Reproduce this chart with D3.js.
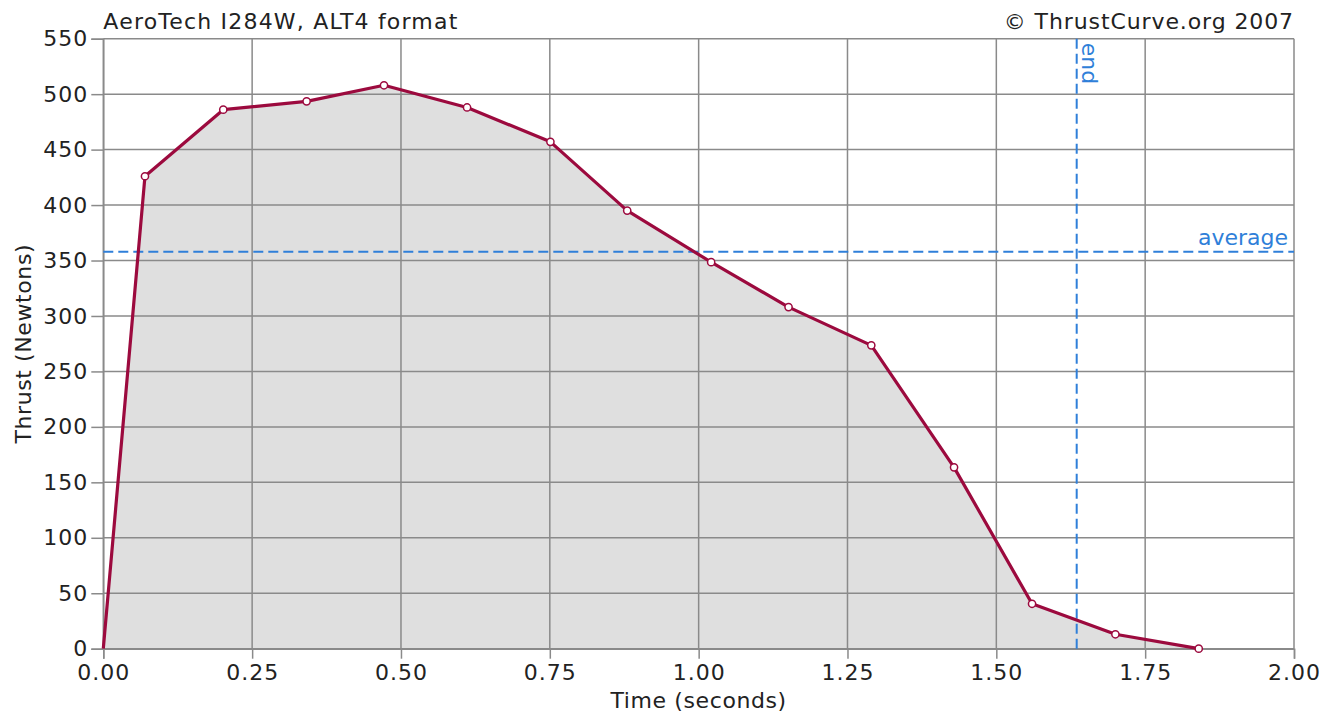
<!DOCTYPE html>
<html>
<head>
<meta charset="utf-8">
<script src="https://cdn.jsdelivr.net/npm/d3@7"></script>
<style>
  html, body { margin: 0; padding: 0; background: #fff; }
  svg { display: block; font-family: "DejaVu Sans", sans-serif; }
</style>
</head>
<body>
<svg id="chart" width="1335" height="719"></svg>
<script>
// ---- data ----
const times  = [0, 0.070, 0.2015, 0.3415, 0.4715, 0.611, 0.751, 0.880, 1.021, 1.151, 1.290, 1.429, 1.560, 1.700, 1.840];
const thrust = [0, 426, 486, 493.5, 508, 488, 457, 395, 348.5, 308, 273.5, 163.5, 40.5, 13, 0];
const averageThrust = 358;
const burnEnd = 1.635;
const xTickValues = [0, 0.25, 0.5, 0.75, 1.0, 1.25, 1.5, 1.75, 2.0];
const yTickValues = [0, 50, 100, 150, 200, 250, 300, 350, 400, 450, 500, 550];
const titleLeft = "AeroTech I284W, ALT4 format";
const titleRight = "© ThrustCurve.org 2007";
const xAxisTitle = "Time (seconds)";
const yAxisTitle = "Thrust (Newtons)";

// ---- layout ----
const L = 103.3, R = 1294, T = 38.7, B = 648.7;
const svg = d3.select("#chart");
const x = d3.scaleLinear().domain([0, 2]).range([L, R]);
const y = d3.scaleLinear().domain([0, 550]).range([B, T]);
const gridColor = "#8a8a8a";
const blue = "#2f7fd9";
const crimson = "#9c0a3e";
const textColor = "#222";

const pts = times.map((t, i) => ({t, v: thrust[i]}));

// area fill
svg.append("path")
  .datum(pts)
  .attr("fill", "#dfdfdf")
  .attr("d", d3.area().x(d => x(d.t)).y0(y(0)).y1(d => y(d.v)));

// grid
const grid = svg.append("g").attr("stroke", gridColor).attr("stroke-width", 1.5);
grid.selectAll("line.v").data(xTickValues).join("line")
  .attr("x1", d => x(d)).attr("x2", d => x(d)).attr("y1", T).attr("y2", B);
grid.selectAll("line.h").data(yTickValues).join("line")
  .attr("x1", L).attr("x2", R).attr("y1", d => y(d)).attr("y2", d => y(d));

// axes
const yAxis = svg.append("g").attr("transform", `translate(${L},0)`)
  .call(d3.axisLeft(y).tickValues(yTickValues).tickSize(12).tickPadding(3).tickFormat(d3.format("d")));
const xAxis = svg.append("g").attr("transform", `translate(0,${B})`)
  .call(d3.axisBottom(x).tickValues(xTickValues).tickSize(10).tickPadding(6).tickFormat(d3.format(".2f")));
[yAxis, xAxis].forEach(g => {
  g.select(".domain").attr("stroke", gridColor).attr("stroke-width", 1.5);
  g.selectAll(".tick line").attr("stroke", gridColor).attr("stroke-width", 1.5);
  g.selectAll(".tick text").attr("fill", textColor).style("font-size", "22px")
    .style("font-family", "DejaVu Sans").style("letter-spacing", "1px");
});
xAxis.selectAll(".tick text").attr("dy", "0.71em");

// average & end lines
svg.append("line")
  .attr("x1", L).attr("x2", R).attr("y1", y(averageThrust)).attr("y2", y(averageThrust))
  .attr("stroke", blue).attr("stroke-width", 2).attr("stroke-dasharray", "10,5");
svg.append("line")
  .attr("x1", x(burnEnd)).attr("x2", x(burnEnd)).attr("y1", T).attr("y2", B)
  .attr("stroke", blue).attr("stroke-width", 2).attr("stroke-dasharray", "10,5");
svg.append("text")
  .attr("x", R - 6).attr("y", y(averageThrust) - 7)
  .attr("text-anchor", "end").attr("fill", blue).style("font-size", "22px")
  .text("average");
svg.append("text")
  .attr("transform", `translate(${x(burnEnd) + 5},${T + 4}) rotate(90)`)
  .attr("fill", blue).style("font-size", "22px")
  .text("end");

// thrust curve
svg.append("path")
  .datum(pts)
  .attr("fill", "none").attr("stroke", crimson).attr("stroke-width", 3.2).attr("stroke-linejoin", "round")
  .attr("d", d3.line().x(d => x(d.t)).y(d => y(d.v)));
svg.append("g").selectAll("circle").data(pts.slice(1)).join("circle")
  .attr("cx", d => x(d.t)).attr("cy", d => y(d.v)).attr("r", 3.6)
  .attr("fill", "#fff").attr("stroke", crimson).attr("stroke-width", 1.5);

// titles
svg.append("text").attr("x", L).attr("y", 29).attr("fill", textColor)
  .style("font-size", "22px").style("letter-spacing", "1.2px").text(titleLeft);
svg.append("text").attr("x", R).attr("y", 29).attr("text-anchor", "end").attr("fill", textColor)
  .style("font-size", "22px").style("letter-spacing", "0.9px").text(titleRight);
svg.append("text").attr("x", (L + R) / 2).attr("y", 708).attr("text-anchor", "middle").attr("fill", textColor)
  .style("font-size", "22px").style("letter-spacing", "0.6px").text(xAxisTitle);
svg.append("text").attr("transform", `translate(31,${(T + B) / 2}) rotate(-90)`)
  .attr("text-anchor", "middle").attr("fill", textColor)
  .style("font-size", "22px").style("letter-spacing", "0.6px").text(yAxisTitle);
</script>
</body>
</html>
